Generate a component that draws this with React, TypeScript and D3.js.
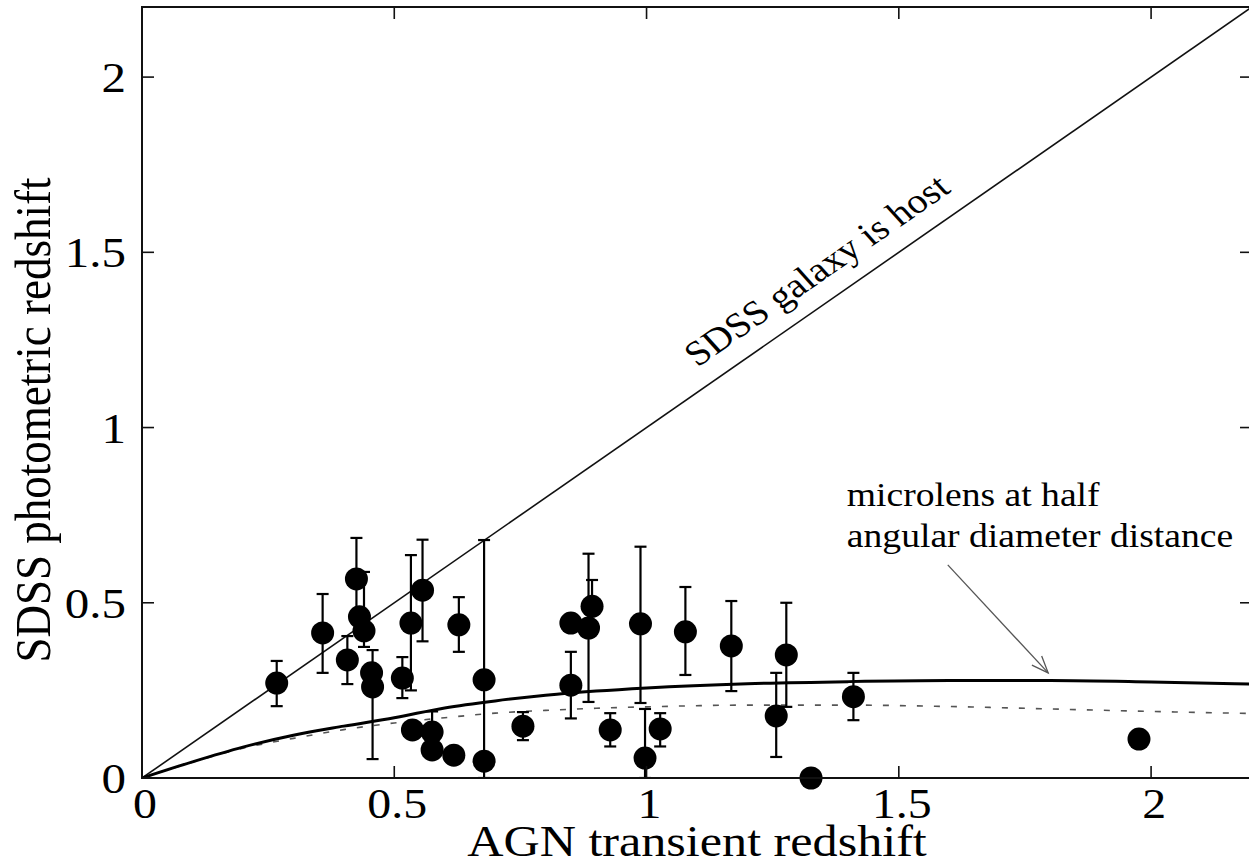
import React, { useEffect, useRef } from 'react';
import * as d3 from 'd3';

// AGN transient redshift vs SDSS photometric redshift
const agnZ = [0.267, 0.358, 0.407, 0.425, 0.431, 0.44, 0.455, 0.457, 0.516, 0.533, 0.556, 0.536, 0.575, 0.575, 0.618, 0.628, 0.678, 0.678, 0.755, 0.85, 0.85, 0.885, 0.892, 0.928, 0.988, 0.997, 1.027, 1.077, 1.168, 1.257, 1.277, 1.326, 1.41, 1.976];
const photoZ = [0.271, 0.414, 0.337, 0.568, 0.46, 0.42, 0.30, 0.26, 0.285, 0.442, 0.536, 0.137, 0.131, 0.08, 0.065, 0.437, 0.28, 0.048, 0.148, 0.442, 0.265, 0.428, 0.49, 0.137, 0.44, 0.057, 0.14, 0.417, 0.377, 0.177, 0.351, 0.0, 0.232, 0.111];
const errLow = [0.205, 0.30, 0.268, 0.45, null, 0.374, null, 0.054, 0.228, 0.25, 0.39, null, 0.09, null, null, 0.36, 0.0, null, 0.108, null, 0.17, 0.217, 0.42, 0.09, 0.214, 0.0, 0.09, 0.294, 0.248, 0.06, 0.203, null, 0.165, null];
const errHigh = [0.334, 0.525, 0.405, 0.685, null, 0.588, null, 0.365, 0.345, 0.636, 0.68, null, 0.19, null, null, 0.516, 0.679, null, 0.188, null, 0.36, 0.64, 0.565, 0.185, 0.66, 0.197, 0.185, 0.545, 0.505, 0.30, 0.50, null, 0.30, null];

// model curves
const curveZ = [0, 0.1, 0.2, 0.3, 0.4, 0.5, 0.6, 0.7, 0.8, 0.9, 1.0, 1.2, 1.4, 1.6, 1.8, 2.0, 2.2];
const halfDistCurve = [0, 0.046, 0.088, 0.122, 0.148, 0.172, 0.2, 0.22, 0.236, 0.248, 0.257, 0.269, 0.275, 0.278, 0.278, 0.274, 0.268];
const dashedCurve = [0, 0.045, 0.085, 0.113, 0.138, 0.157, 0.172, 0.185, 0.193, 0.199, 0.203, 0.208, 0.208, 0.204, 0.197, 0.19, 0.184];

const tickValues = [0, 0.5, 1, 1.5, 2];

const W = 1249, H = 865;
const left = 142, top = 7, right = 1252, bottom = 778;
const serif = '"Liberation Serif", "DejaVu Serif", serif';
// the picture is stretched sideways, text included
const sx = 1.14;

export default function App() {
  const ref = useRef<SVGSVGElement>(null);

  useEffect(() => {
    const svg = d3.select(ref.current);
    svg.selectAll('*').remove();

    const x = d3.scaleLinear().domain([0, 2.2]).range([left, right]);
    const y = d3.scaleLinear().domain([0, 2.2]).range([bottom, top]);

    svg.append('defs').append('clipPath').attr('id', 'plotclip')
      .append('rect').attr('x', left).attr('y', top).attr('width', right - left).attr('height', bottom - top);

    const plot = svg.append('g').attr('clip-path', 'url(#plotclip)');

    // y = x line
    plot.append('line')
      .attr('x1', x(0)).attr('y1', y(0)).attr('x2', x(2.2)).attr('y2', y(2.2))
      .attr('stroke', '#111').attr('stroke-width', 1.6);

    const line = d3.line<number>()
      .x((d, i) => x(curveZ[i]))
      .y(d => y(d))
      .curve(d3.curveMonotoneX);

    plot.append('path').attr('d', line(dashedCurve))
      .attr('fill', 'none').attr('stroke', '#555').attr('stroke-width', 1.6)
      .attr('stroke-dasharray', '6,11');

    plot.append('path').attr('d', line(halfDistCurve))
      .attr('fill', 'none').attr('stroke', '#000').attr('stroke-width', 3);

    // error bars
    const cap = 6;
    const eb = plot.append('g').attr('stroke', '#000').attr('stroke-width', 2.2);
    agnZ.forEach((z, i) => {
      const lo = errLow[i], hi = errHigh[i];
      if (lo == null || hi == null) return;
      const cx = x(z);
      eb.append('line').attr('x1', cx).attr('x2', cx).attr('y1', y(lo)).attr('y2', y(hi));
      eb.append('line').attr('x1', cx - cap).attr('x2', cx + cap).attr('y1', y(lo)).attr('y2', y(lo));
      eb.append('line').attr('x1', cx - cap).attr('x2', cx + cap).attr('y1', y(hi)).attr('y2', y(hi));
    });

    // points
    svg.append('g').selectAll('circle').data(agnZ).enter().append('circle')
      .attr('cx', d => x(d)).attr('cy', (d, i) => y(photoZ[i]))
      .attr('r', 11.5).attr('fill', '#000');

    // frame
    svg.append('rect').attr('x', left).attr('y', top)
      .attr('width', right - left).attr('height', bottom - top)
      .attr('fill', 'none').attr('stroke', '#111').attr('stroke-width', 2);

    // ticks
    const tk = 12;
    const ticks = svg.append('g').attr('stroke', '#111').attr('stroke-width', 1.6);
    tickValues.forEach(v => {
      ticks.append('line').attr('x1', x(v)).attr('x2', x(v)).attr('y1', bottom).attr('y2', bottom - tk);
      ticks.append('line').attr('x1', x(v)).attr('x2', x(v)).attr('y1', top).attr('y2', top + tk);
      ticks.append('line').attr('x1', left).attr('x2', left + tk).attr('y1', y(v)).attr('y2', y(v));
      ticks.append('line').attr('x1', right).attr('x2', right - tk).attr('y1', y(v)).attr('y2', y(v));
    });

    const fmt = (v: number) => String(v);
    svg.append('g').selectAll('text').data(tickValues).enter().append('text')
      .attr('transform', d => `translate(${x(d) + 3},818) scale(${sx},1)`)
      .attr('text-anchor', 'middle').attr('font-family', serif).attr('font-size', 42)
      .text(fmt);
    svg.append('g').selectAll('text').data(tickValues).enter().append('text')
      .attr('transform', d => `translate(126,${y(d) + 15}) scale(${sx},1)`)
      .attr('text-anchor', 'end').attr('font-family', serif).attr('font-size', 43)
      .text(fmt);

    // axis titles
    svg.append('text')
      .attr('transform', `translate(697,856) scale(${sx},1)`)
      .attr('text-anchor', 'middle').attr('font-family', serif).attr('font-size', 44)
      .text('AGN transient redshift');
    svg.append('text')
      .attr('transform', `translate(50,420) scale(${sx},1) rotate(-90)`)
      .attr('text-anchor', 'middle').attr('font-family', serif).attr('font-size', 45)
      .text('SDSS photometric redshift');

    // diagonal label, following the y = x line
    const ang = Math.atan2(y(0) - y(1), x(1) - x(0));
    const angRaw = Math.atan(Math.tan(ang) * sx) * 180 / Math.PI;
    const lz = 1.376, off = 20;
    const lx = x(lz) - Math.sin(ang) * off, ly = y(lz) - Math.cos(ang) * off;
    svg.append('text')
      .attr('transform', `translate(${lx},${ly}) scale(${sx},1) rotate(${-angRaw})`)
      .attr('text-anchor', 'middle').attr('font-family', serif).attr('font-size', 35)
      .text('SDSS galaxy is host');

    // microlens annotation
    svg.append('text')
      .attr('transform', `translate(${x(1.397)},506) scale(${sx},1)`)
      .attr('font-family', serif).attr('font-size', 33).text('microlens at half');
    svg.append('text')
      .attr('transform', `translate(${x(1.397)},547) scale(${sx},1)`)
      .attr('font-family', serif).attr('font-size', 33).text('angular diameter distance');

    const ax1 = x(1.597), ay1 = y(0.608), ax2 = x(1.796), ay2 = y(0.30);
    svg.append('line').attr('x1', ax1).attr('y1', ay1).attr('x2', ax2).attr('y2', ay2)
      .attr('stroke', '#555').attr('stroke-width', 1.3);
    const a = Math.atan2(ay2 - ay1, ax2 - ax1);
    const hl = 18, hw = 0.38;
    const p1 = [ax2 - hl * Math.cos(a - hw), ay2 - hl * Math.sin(a - hw)];
    const p2 = [ax2 - hl * Math.cos(a + hw), ay2 - hl * Math.sin(a + hw)];
    svg.append('path')
      .attr('d', `M${p1[0]},${p1[1]} L${ax2},${ay2} L${p2[0]},${p2[1]}`)
      .attr('fill', 'none').attr('stroke', '#555').attr('stroke-width', 1.3);
  }, []);

  return (
    <svg ref={ref} width={W} height={H}
      style={{ position: 'absolute', left: 0, top: 0, background: '#fff' }} />
  );
}
